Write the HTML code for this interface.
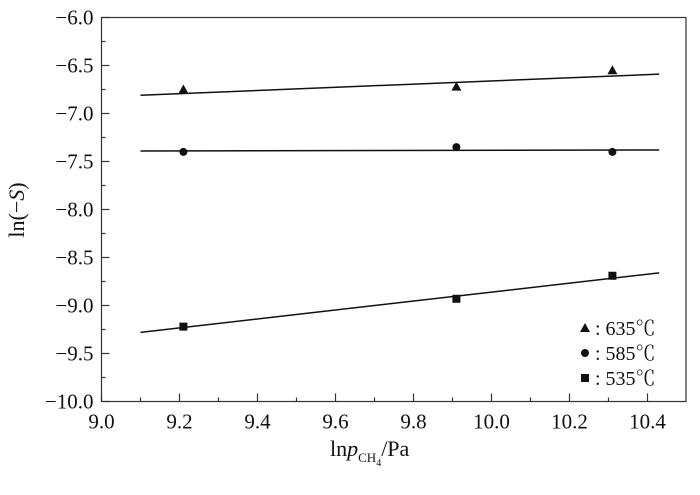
<!DOCTYPE html>
<html><head><meta charset="utf-8"><style>
body{margin:0;background:#fff}
text{font-family:"Liberation Serif","Noto Serif CJK SC",serif;fill:#111}
</style></head><body>
<svg id="c" width="700" height="472" viewBox="0 0 700 472"></svg>
<script>
const xTicks=[9.0,9.2,9.4,9.6,9.8,10.0,10.2,10.4];
const yTicks=[-6.0,-6.5,-7.0,-7.5,-8.0,-8.5,-9.0,-9.5,-10.0];
const xs=[9.21,9.91,10.31];
const s635=[-6.75,-6.72,-6.55];
const s585=[-7.40,-7.35,-7.40];
const s535=[-9.22,-8.93,-8.69];
const fitX=[9.1,10.43];
const fit635=[-6.81,-6.59];
const fit585=[-7.39,-7.38];
const fit535=[-9.28,-8.66];
const labels=["635℃","585℃","535℃"];
const L=101.5,R=686,T=17.5,B=401.5;
const X=v=>L+(v-9.0)*390;
const Y=v=>T+(-6.0-v)*96;
const svg=document.getElementById('c');const NS='http://www.w3.org/2000/svg';
function el(t,a,p){const e=document.createElementNS(NS,t);for(const k in a)e.setAttribute(k,a[k]);(p||svg).appendChild(e);return e;}
const frame=el('rect',{x:L,y:T,width:R-L,height:B-T,fill:'none',stroke:'#333','stroke-width':1.2});

xTicks.forEach((v,i)=>{
 const t=el('line',{x1:X(v),x2:X(v),y1:B,y2:B-8,stroke:'#333','stroke-width':1.2});
 
 if(i<xTicks.length-1){const m=el('line',{x1:X(v+0.1),x2:X(v+0.1),y1:B,y2:B-4,stroke:'#333','stroke-width':1.2});
 }
 const tx=el('text',{x:X(v),y:B+27,'text-anchor':'middle','font-size':21});tx.textContent=v.toFixed(1);
 
});
yTicks.forEach((v,i)=>{
 const t=el('line',{x1:L,x2:L+8,y1:Y(v),y2:Y(v),stroke:'#333','stroke-width':1.2});
 
 if(i<yTicks.length-1){const m=el('line',{x1:L,x2:L+4,y1:Y(v-0.25),y2:Y(v-0.25),stroke:'#333','stroke-width':1.2});
 }
 const tx=el('text',{x:L-8,y:Y(v)+7,'text-anchor':'end','font-size':21});tx.textContent='\u2212'+Math.abs(v).toFixed(1);
 
});
[fit635,fit585,fit535].forEach(f=>{
 const l=el('line',{x1:X(fitX[0]),x2:X(fitX[1]),y1:Y(f[0]),y2:Y(f[1]),stroke:'#111','stroke-width':1.5});
 
});
function tri(x,y){return el('polygon',{points:`${x},${y-5} ${x-5},${y+4} ${x+5},${y+4}`,fill:'#111'});}
function cir(x,y){return el('circle',{cx:x,cy:y,r:4,fill:'#111'});}
function sq(x,y){return el('rect',{x:x-4,y:y-4,width:8,height:8,fill:'#111'});}
const series=[[s635,tri,'point-635'],[s585,cir,'point-585'],[s535,sq,'point-535']];
series.forEach(([s,f,n])=>s.forEach((v,i)=>{const p=f(X(xs[i]),Y(v));
 }));
series.forEach(([s,f,n],i)=>{const y=328+i*25;const m=f(585,y);
 
 const t=el('text',{x:595,y:y+7,'font-size':20});t.textContent=': '+labels[i];
 });
</script>
<svg width="0" height="0"></svg>
<div style="position:absolute;left:0;top:0;width:700px;height:472px;pointer-events:none">
<svg width="700" height="472">
<text x="330" y="456" font-size="22">ln<tspan font-style="italic">p</tspan><tspan font-size="13" dy="6">CH</tspan><tspan font-size="10" dy="4">4</tspan><tspan dy="-10">/Pa</tspan></text>
<text transform="translate(24,210) rotate(-90)" text-anchor="middle" font-size="22">ln(−<tspan font-style="italic">S</tspan>)</text>
</svg></div>
</body></html>
